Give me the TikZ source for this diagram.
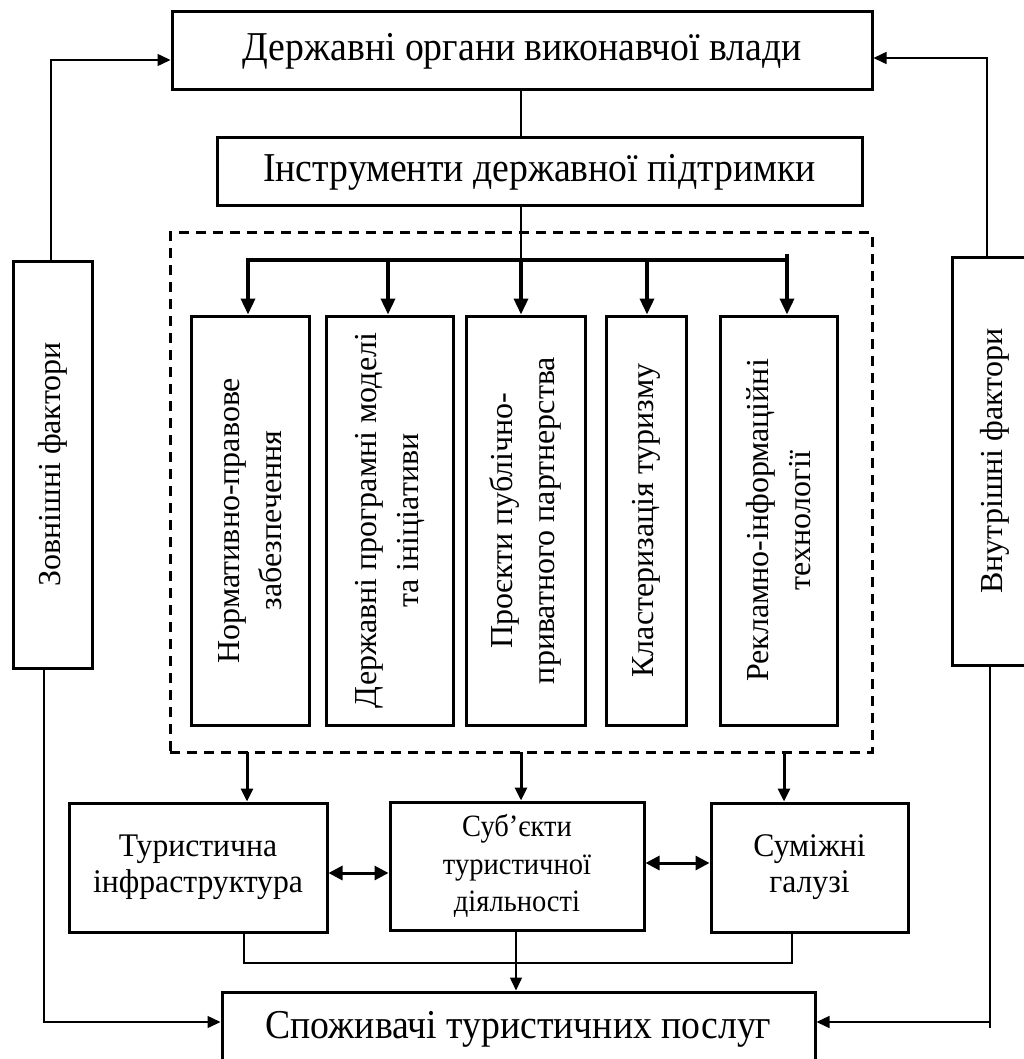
\documentclass[tikz,border=0pt]{standalone}
\usepackage{fontspec}
\setmainfont{Liberation Serif}
\newfontfamily\condfont[FakeStretch=0.92]{Liberation Serif}
\newfontfamily\semicondfont[FakeStretch=0.96]{Liberation Serif}
\usetikzlibrary{arrows.meta}
\begin{document}
\begin{tikzpicture}[x=1pt,y=-1pt,
  box/.style={draw, line width=3pt, rectangle, inner sep=0pt, align=center},
  bigtext/.style={font=\condfont\fontsize{41}{48}\selectfont},
  vtext/.style={rotate=90, font=\fontsize{32}{42}\selectfont},
  smtext/.style={font=\semicondfont\fontsize{33}{36}\selectfont},
  subtext/.style={font=\condfont\fontsize{31}{37.5}\selectfont},
  thinline/.style={line width=1.5pt},
  tipthin/.style={-{Triangle[length=13pt,width=12pt]}},
  tipthick/.style={-{Triangle[length=16pt,width=14pt]}},
  dbl/.style={{Triangle[length=14pt,width=14pt]}-{Triangle[length=14pt,width=14pt]}, line width=3pt},
]
\useasboundingbox (0,0) rectangle (1024,1059);
\clip (0,0) rectangle (1024,1059);

% top boxes
\node[box, bigtext, minimum width=700pt, minimum height=78pt] (top) at (522,51) {Державні органи виконавчої влади};
\node[box, bigtext, minimum width=645pt, minimum height=68pt] (instr) at (539.5,172) {Інструменти державної підтримки};

% dashed frame
\node[draw, line width=3pt, dash pattern=on 10pt off 7pt, rectangle, inner sep=0pt, minimum width=702pt, minimum height=519pt] (frame) at (521,492.5) {};

% five vertical boxes
\node[box, vtext, minimum width=409pt, minimum height=118pt] (b1) at (250,520.5) {Нормативно-правове\\забезпечення};
\node[box, vtext, minimum width=409pt, minimum height=127pt] (b2) at (389.5,520.5) {Державні програмні моделі\\та ініціативи};
\node[box, vtext, minimum width=409pt, minimum height=119pt] (b3) at (525.5,520.5) {Проєкти публічно-\\приватного партнерства};
\node[box, vtext, minimum width=409pt, minimum height=80pt] (b4) at (646,520.5) {Кластеризація туризму};
\node[box, vtext, minimum width=409pt, minimum height=117pt] (b5) at (778.5,520.5) {Рекламно-інформаційні\\технології};

% side boxes
\node[box, vtext, minimum width=407pt, minimum height=79pt] (ext) at (52.5,464.5) {Зовнішні фактори};
\node[box, vtext, minimum width=408pt, minimum height=86pt] (int) at (995,461) {Внутрішні фактори};

% bottom boxes
\node[box, smtext, minimum width=258pt, minimum height=129pt] (t1) at (198,867.5) {Туристична\\інфраструктура};
\node[box, subtext, minimum width=254pt, minimum height=128pt] (t2) at (517,866) {Суб’єкти\\туристичної\\діяльності};
\node[box, smtext, minimum width=197pt, minimum height=129pt] (t3) at (809.5,867.5) {Суміжні\\галузі};
\node[box, bigtext, minimum width=593pt, minimum height=74pt] (cons) at (518.5,1029) {Споживачі туристичних послуг};

% coordinates
\coordinate (busL) at (248,260);
\coordinate (busR) at (787,260);
\coordinate (busRtop) at (787,254);
\coordinate (x2) at (388,260);
\coordinate (x3) at (521,260);
\coordinate (x4) at (647,260);
\coordinate (lt) at (51,60);
\coordinate (rt) at (987,58);
\coordinate (lb) at (44,1022);
\coordinate (rb) at (990,1022);
\coordinate (rbend) at (990,1028);
\coordinate (d1) at (247,752);
\coordinate (d2) at (521,752);
\coordinate (d3) at (784,752);
\coordinate (j1) at (244,963);
\coordinate (j3) at (792,963);
\coordinate (j2) at (516,963);

% connectors top
\draw[thinline] (top.south -| x3) -- (instr.north -| x3);
\draw[thinline] (instr.south -| x3) -- (x3);
\draw[line width=4pt] ([xshift=-2pt]busL) -- ([xshift=2pt]busR);
\draw[line width=3.5pt, tipthick] (busL) -- (b1.east -| busL);
\draw[line width=3.5pt, tipthick] (x2) -- (b2.east -| x2);
\draw[line width=3.5pt, tipthick] (x3) -- (b3.east -| x3);
\draw[line width=3.5pt, tipthick] (x4) -- (b4.east -| x4);
\draw[line width=3.5pt, tipthick] (busRtop) -- (b5.east -| busR);

% side connectors
\draw[thinline, tipthin] (ext.east -| lt) -- (lt) -- (lt -| top.west);
\draw[thinline, tipthin] (int.east -| rt) -- (rt) -- (rt -| top.east);
\draw[thinline, tipthin] (ext.west -| lb) -- (lb) -- (lb -| cons.west);
\draw[thinline] (int.west -| rb) -- (rbend);
\draw[thinline, tipthin] (rb) -- (rb -| cons.east);

% frame to bottom boxes
\draw[line width=3pt, tipthin] (d1) -- (d1 |- t1.north);
\draw[line width=3pt, tipthin] (d2) -- (d2 |- t2.north);
\draw[line width=3pt, tipthin] (d3) -- (d3 |- t3.north);

% double arrows
\draw[dbl] (t1.east |- 0,873) -- (t2.west |- 0,873);
\draw[dbl] (t2.east |- 0,863) -- (t3.west |- 0,863);

% join
\draw[thinline] (t1.south -| j1) -- (j1) -- (j3) -- (t3.south -| j3);
\draw[thinline, tipthin] (t2.south -| j2) -- (cons.north -| j2);
\end{tikzpicture}
\end{document}
